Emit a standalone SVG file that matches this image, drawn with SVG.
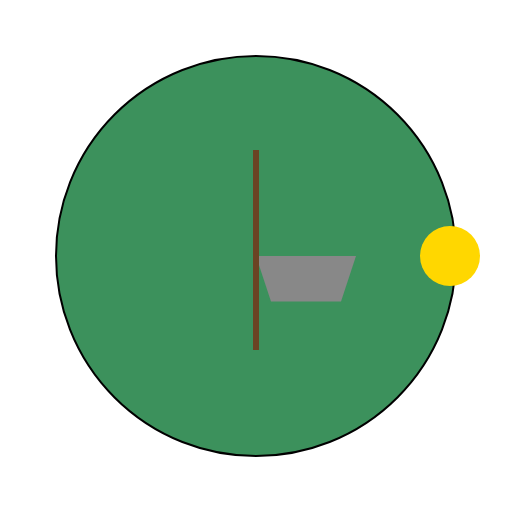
<svg xmlns="http://www.w3.org/2000/svg" width="512" height="512" viewBox="0 0 512 512">
<rect width="512" height="512" fill="#ffffff"/>
<circle cx="256" cy="256" r="200" fill="#3c915c" stroke="#000000" stroke-width="2"/>
<polygon points="256,256 356,256 341,301.5 271,301.5" fill="#888888"/>
<rect x="253" y="150" width="6" height="200" fill="#6b4423"/>
<circle cx="450" cy="256" r="30" fill="#ffd700"/>
</svg>
